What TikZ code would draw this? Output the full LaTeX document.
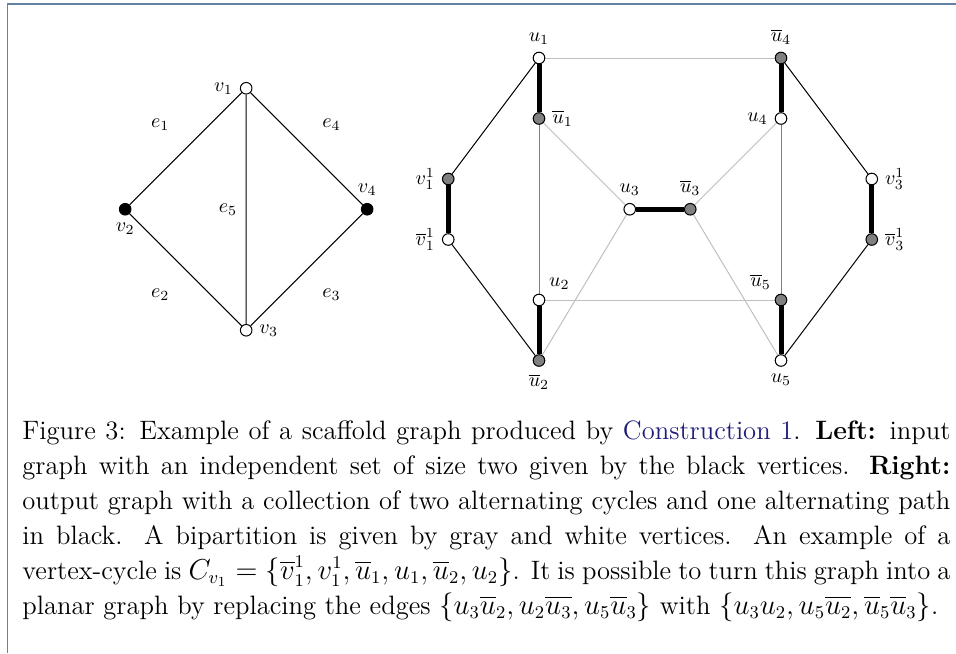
\documentclass[tikz,border=0pt]{standalone}
\usepackage{amsmath}
\usetikzlibrary{backgrounds}

\definecolor{framecol}{RGB}{100,130,165}
\definecolor{linkcol}{RGB}{30,30,120}

\tikzset{
  vert/.style={circle, draw, line width=0.5pt, inner sep=0pt, minimum size=5.8pt, fill=white},
  gvert/.style={vert, fill=gray},
  bvert/.style={vert, fill=black},
  thinedge/.style={line width=0.5pt},
  heavy/.style={line width=2.5pt},
  midedge/.style={gray, line width=0.5pt},
  faint/.style={lightgray, line width=0.5pt},
  every label/.style={inner sep=1pt}
}

\begin{document}
\begin{tikzpicture}[x=30.25pt, y=30.25pt, label distance=2.3pt]
    \useasboundingbox (-269.5pt,29pt) rectangle (208.5pt,-297.5pt);
    \draw[framecol, line width=0.75pt] (-265.75pt,-297.5pt) -- (-265.75pt,27pt) -- (208.5pt,27pt);

    % input graph
    \begin{scope}[shift={(-4.84,-2.5)}]
      \node[vert, label=left:$v_1$] (v1) at (0,2) {};
      \node[bvert, label=below:$v_2$] (v2) at (-2,0) {};
      \node[vert, label=right:$v_3$] (v3) at (0,-2) {};
      \node[bvert, label=above:$v_4$] (v4) at (2,0) {};
      \draw[thinedge] (v1) -- (v2) -- (v3) -- (v4) -- (v1) -- (v3);
      \node (e1) at (-1.42,1.4) {$e_1$};
      \node (e2) at (-1.42,-1.42) {$e_2$};
      \node (e3) at (1.41,-1.42) {$e_3$};
      \node (e4) at (1.41,1.4) {$e_4$};
      \node (e5) at (-0.3,0) {$e_5$};
    \end{scope}

    % output graph
    \node[vert, label=above:$u_1$] (u1) at (0,0) {};
    \node[gvert, label=right:$\overline{u}_1$] (u1b) at (0,-1) {};
    \node[vert, label=above right:$u_2$] (u2) at (0,-4) {};
    \node[gvert, label=below:$\overline{u}_2$] (u2b) at (0,-5) {};
    \node[gvert, label=above:$\overline{u}_4$] (u4b) at (4,0) {};
    \node[vert, label=left:$u_4$] (u4) at (4,-1) {};
    \node[gvert, label=above left:$\overline{u}_5$] (u5b) at (4,-4) {};
    \node[vert, label=below:$u_5$] (u5) at (4,-5) {};
    \node[vert, label=above:$u_3$] (u3) at (1.5,-2.5) {};
    \node[gvert, label=above:$\overline{u}_3$] (u3b) at (2.5,-2.5) {};
    \node[gvert, label=left:$v_1^1$] (w1) at (-1.5,-2) {};
    \node[vert, label=left:$\overline{v}_1^1$] (w1b) at (-1.5,-3) {};
    \node[vert, label=right:$v_3^1$] (w3) at (5.5,-2) {};
    \node[gvert, label=right:$\overline{v}_3^1$] (w3b) at (5.5,-3) {};

    \begin{scope}[on background layer]
      \draw[faint] (u1) -- (u4b);
      \draw[faint] (u2) -- (u5b);
      \draw[faint] (u1b) -- (u3) -- (u2b);
      \draw[faint] (u4) -- (u3b) -- (u5);
      \draw[midedge] (u1b) -- (u2);
      \draw[midedge] (u4) -- (u5b);
      \draw[thinedge] (u1) -- (w1);
      \draw[thinedge] (w1b) -- (u2b);
      \draw[thinedge] (u4b) -- (w3);
      \draw[thinedge] (w3b) -- (u5);
      \draw[heavy] (u1) -- (u1b);
      \draw[heavy] (u2) -- (u2b);
      \draw[heavy] (u4b) -- (u4);
      \draw[heavy] (u5b) -- (u5);
      \draw[heavy] (w1) -- (w1b);
      \draw[heavy] (w3) -- (w3b);
      \draw[heavy] (u3) -- (u3b);
    \end{scope}

    % caption
    \node[anchor=north west, inner sep=0pt, text width=464pt, align=justify,
          font=\fontsize{13.3}{17.5}\selectfont] (cap) at (-258.5pt,-181pt)
      {Figure 3: Example of a scaffold graph produced by {\color{linkcol}Construction 1}. \textbf{Left:} input\linebreak
       graph with an independent set of size two given by the black vertices. \textbf{Right:}\linebreak
       output graph with a collection of two alternating cycles and one alternating path\linebreak
       in black. A bipartition is given by gray and white vertices. An example of a\linebreak
       vertex-cycle is $C_{v_1} = \{\overline{v}_1^1, v_1^1, \overline{u}_1, u_1, \overline{u}_2, u_2\}$. It is possible to turn this graph into a\linebreak
       planar graph by replacing the edges $\{u_3\overline{u}_2, u_2\overline{u_3}, u_5\overline{u}_3\}$ with $\{u_3u_2, u_5\overline{u_2}, \overline{u}_5\overline{u}_3\}$.};
\end{tikzpicture}
\end{document}
